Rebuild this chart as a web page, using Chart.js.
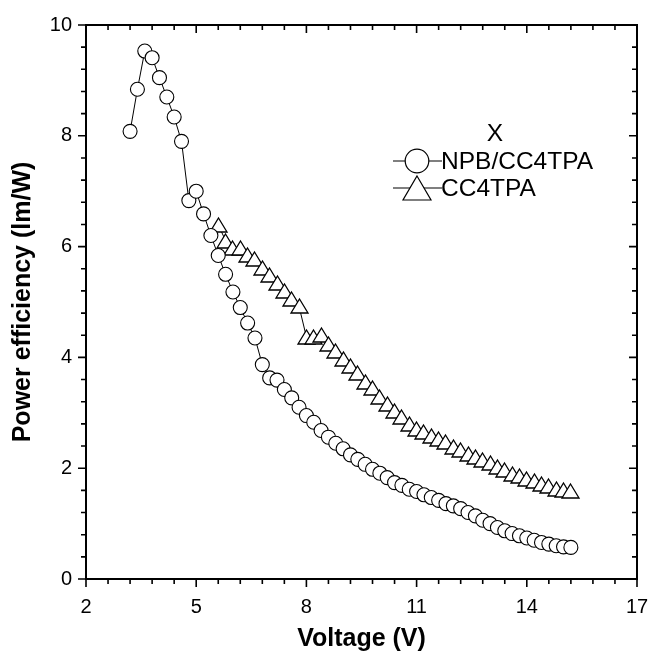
<!DOCTYPE html>
<html>
<head>
<meta charset="utf-8">
<title>Power efficiency vs voltage</title>
<script src="https://cdn.jsdelivr.net/npm/chart.js@4/dist/chart.umd.min.js"></script>
<style>
  html, body { margin: 0; padding: 0; background: #fff; }
  #grafico { display: block; }
</style>
</head>
<body>
<canvas id="grafico" width="655" height="657"></canvas>
<script>
// dados
const tensaoNPB = [3.2, 3.4, 3.6, 3.8, 4.0, 4.2, 4.4, 4.6, 4.8, 5.0, 5.2, 5.4, 5.6, 5.8, 6.0, 6.2, 6.4, 6.6, 6.8, 7.0,
    7.2, 7.4, 7.6, 7.8, 8.0, 8.2, 8.4, 8.6, 8.8, 9.0, 9.2, 9.4, 9.6, 9.8, 10.0, 10.2, 10.4, 10.6, 10.8, 11.0,
    11.2, 11.4, 11.6, 11.8, 12.0, 12.2, 12.4, 12.6, 12.8, 13.0, 13.2, 13.4, 13.6, 13.8, 14.0, 14.2, 14.4, 14.6, 14.8, 15.0, 15.2];
const eficienciaNPB = [8.08, 8.84, 9.53, 9.41, 9.05, 8.70, 8.34, 7.90, 6.83, 7.00, 6.59, 6.20, 5.84, 5.50, 5.18, 4.90, 4.62, 4.35, 3.87, 3.63,
    3.59, 3.42, 3.27, 3.10, 2.95, 2.83, 2.68, 2.56, 2.45, 2.35, 2.24, 2.16, 2.07, 1.98, 1.91, 1.83, 1.74, 1.69, 1.62, 1.58,
    1.52, 1.47, 1.42, 1.36, 1.32, 1.27, 1.20, 1.14, 1.06, 1.00, 0.93, 0.87, 0.82, 0.78, 0.74, 0.70, 0.66, 0.63, 0.60, 0.58, 0.57];

const tensaoCC = [5.6, 5.8, 6.0, 6.2, 6.4, 6.6, 6.8, 7.0, 7.2, 7.4, 7.6, 7.8, 8.0, 8.2, 8.4, 8.6, 8.8, 9.0, 9.2, 9.4,
    9.6, 9.8, 10.0, 10.2, 10.4, 10.6, 10.8, 11.0, 11.2, 11.4, 11.6, 11.8, 12.0, 12.2, 12.4, 12.6, 12.8, 13.0, 13.2, 13.4,
    13.6, 13.8, 14.0, 14.2, 14.4, 14.6, 14.8, 15.0, 15.2];
const eficienciaCC = [6.39, 6.11, 5.97, 5.97, 5.85, 5.78, 5.62, 5.48, 5.35, 5.20, 5.06, 4.92, 4.37, 4.37, 4.41, 4.25, 4.11, 3.98, 3.84, 3.71,
    3.56, 3.44, 3.29, 3.16, 3.04, 2.92, 2.80, 2.71, 2.65, 2.59, 2.52, 2.47, 2.38, 2.32, 2.26, 2.20, 2.14, 2.09, 2.02, 1.96,
    1.90, 1.86, 1.81, 1.76, 1.72, 1.68, 1.63, 1.60, 1.58];

const nomesSeries = ['NPB/CC4TPA', 'CC4TPA'];
const tituloLegenda = 'X';
const ticksX = [2, 5, 8, 11, 14, 17];
const ticksY = [0, 2, 4, 6, 8, 10];
const menoresPorIntervalo = 5;

const fonte = 'Liberation Sans, Arial, Helvetica, sans-serif';
Chart.defaults.font.family = fonte;
Chart.defaults.color = '#000';

function pontos(xs, ys) {
    return xs.map((v, i) => ({x: v, y: ys[i]}));
}

// triângulo um pouco mais largo que o do Chart.js
function triangulo(w, h) {
    const c = document.createElement('canvas');
    c.width = w + 4;
    c.height = h + 4;
    const g = c.getContext('2d');
    const cx = c.width / 2, cy = c.height / 2;
    g.beginPath();
    g.moveTo(cx, cy - h / 2);
    g.lineTo(cx + w / 2, cy + h / 2);
    g.lineTo(cx - w / 2, cy + h / 2);
    g.closePath();
    g.fillStyle = '#fff';
    g.fill();
    g.lineWidth = 1.3;
    g.strokeStyle = '#000';
    g.stroke();
    return c;
}

// sem suavização: a imagem do triângulo fica nítida
const nitido = {
    id: 'nitido',
    beforeDatasetsDraw(chart) {
        chart.ctx.imageSmoothingEnabled = false;
    }
};

// moldura e marcas (maiores e menores) nos quatro lados
const moldura = {
    id: 'moldura',
    afterDatasetsDraw(chart) {
        const {ctx, chartArea: a, scales: {x, y}} = chart;
        ctx.save();
        ctx.strokeStyle = '#000';
        ctx.lineWidth = 2;
        ctx.strokeRect(a.left, a.top, a.right - a.left, a.bottom - a.top);
        ctx.lineWidth = 1.6;
        ctx.beginPath();
        ticksX.forEach((t, i) => {
            const px = x.getPixelForValue(t);
            ctx.moveTo(px, a.bottom); ctx.lineTo(px, a.bottom + 8);
            ctx.moveTo(px, a.top); ctx.lineTo(px, a.top + 8);
            if (i < ticksX.length - 1) {
                const passo = (ticksX[i + 1] - t) / menoresPorIntervalo;
                for (let k = 1; k < menoresPorIntervalo; k++) {
                    const pm = x.getPixelForValue(t + k * passo);
                    ctx.moveTo(pm, a.bottom); ctx.lineTo(pm, a.bottom + 5);
                    ctx.moveTo(pm, a.top); ctx.lineTo(pm, a.top + 5);
                }
            }
        });
        ticksY.forEach((t, i) => {
            const py = y.getPixelForValue(t);
            ctx.moveTo(a.left, py); ctx.lineTo(a.left - 8, py);
            ctx.moveTo(a.right, py); ctx.lineTo(a.right - 8, py);
            if (i < ticksY.length - 1) {
                const passo = (ticksY[i + 1] - t) / menoresPorIntervalo;
                for (let k = 1; k < menoresPorIntervalo; k++) {
                    const pm = y.getPixelForValue(t + k * passo);
                    ctx.moveTo(a.left, pm); ctx.lineTo(a.left - 5, pm);
                    ctx.moveTo(a.right, pm); ctx.lineTo(a.right - 5, pm);
                }
            }
        });
        ctx.stroke();
        ctx.restore();
    }
};

// legenda no estilo do Origin: linha + símbolo + texto
const legenda = {
    id: 'legenda',
    afterDraw(chart) {
        const ctx = chart.ctx;
        ctx.save();
        ctx.fillStyle = '#000';
        ctx.strokeStyle = '#000';
        ctx.font = '24.5px ' + fonte;
        ctx.textBaseline = 'middle';
        ctx.textAlign = 'center';
        ctx.fillText(tituloLegenda, 495, 134);
        ctx.textAlign = 'left';

        const linhas = [161, 188];
        linhas.forEach((ly, i) => {
            ctx.lineWidth = 1.2;
            ctx.beginPath();
            ctx.moveTo(393, ly);
            ctx.lineTo(442, ly);
            ctx.stroke();
            ctx.beginPath();
            if (i === 0) {
                ctx.arc(417, ly, 11.8, 0, Math.PI * 2);
            } else {
                ctx.moveTo(417, ly - 12);
                ctx.lineTo(431, ly + 12);
                ctx.lineTo(403, ly + 12);
                ctx.closePath();
            }
            ctx.fillStyle = '#fff';
            ctx.fill();
            ctx.stroke();
            ctx.fillStyle = '#000';
            ctx.fillText(nomesSeries[i], 441, ly + 1);
        });
        ctx.restore();
    }
};

function fixarTamanho(prop, valor) {
    return function (s) {
        s[prop] = valor;
        s.paddingLeft = 0;
        s.paddingRight = 0;
        s.paddingTop = 0;
        s.paddingBottom = 0;
    };
}

const ctx = document.getElementById('grafico').getContext('2d');
const grafico = new Chart(ctx, {
    type: 'scatter',
    data: {
        datasets: [{
            label: nomesSeries[0],
            data: pontos(tensaoNPB, eficienciaNPB),
            showLine: true,
            borderColor: '#000',
            borderWidth: 1,
            tension: 0,
            pointStyle: 'circle',
            pointRadius: 7,
            pointBorderWidth: 1.1,
            pointBackgroundColor: '#fff',
            pointBorderColor: '#000'
        }, {
            label: nomesSeries[1],
            data: pontos(tensaoCC, eficienciaCC),
            showLine: true,
            borderColor: '#000',
            borderWidth: 1,
            tension: 0,
            pointStyle: triangulo(17, 14),
            pointRadius: 8,
            pointBackgroundColor: '#fff',
            pointBorderColor: '#000'
        }]
    },
    options: {
        responsive: false,
        animation: false,
        events: [],
        layout: { padding: { top: 25, right: 18, left: 0, bottom: 0 } },
        plugins: {
            legend: { display: false },
            tooltip: { enabled: false }
        },
        scales: {
            x: {
                type: 'linear',
                min: 2,
                max: 17,
                afterFit: fixarTamanho('height', 78),
                afterBuildTicks: (s) => { s.ticks = ticksX.map(v => ({value: v})); },
                grid: { display: false, drawTicks: false },
                border: { display: false },
                ticks: { font: { size: 20 }, padding: 16, maxRotation: 0 },
                title: {
                    display: true,
                    text: 'Voltage (V)',
                    font: { size: 25, weight: 'bold' },
                    padding: { top: 0, bottom: 3 }
                }
            },
            y: {
                type: 'linear',
                min: 0,
                max: 10,
                afterFit: fixarTamanho('width', 86),
                afterBuildTicks: (s) => { s.ticks = ticksY.map(v => ({value: v})); },
                grid: { display: false, drawTicks: false },
                border: { display: false },
                ticks: { font: { size: 20 }, padding: 14 },
                title: {
                    display: true,
                    text: 'Power efficiency (lm/W)',
                    font: { size: 25, weight: 'bold' },
                    padding: { top: 8, bottom: 0 }
                }
            }
        }
    },
    plugins: [nitido, moldura, legenda]
});
</script>
</body>
</html>
